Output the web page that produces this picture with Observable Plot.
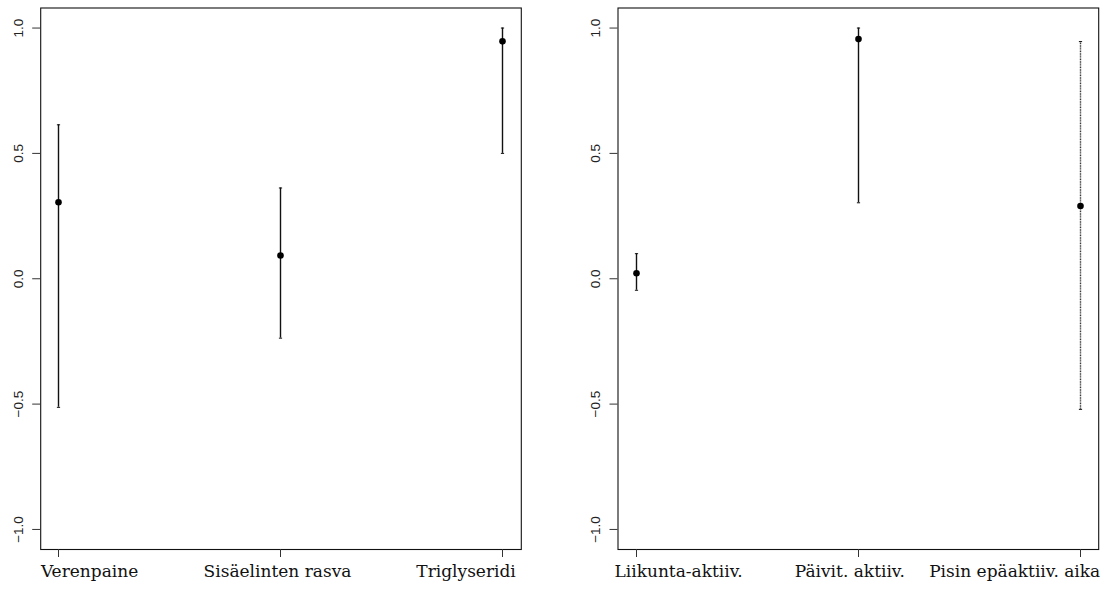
<!DOCTYPE html>
<html>
<head>
<meta charset="utf-8">
<script src="https://cdn.jsdelivr.net/npm/d3@7"></script>
<script src="https://cdn.jsdelivr.net/npm/@observablehq/plot@0.6"></script>
<style>
  html, body { margin: 0; padding: 0; background: white; }
  #wrap { display: flex; width: 1107px; height: 589px; }
  svg { display: block; }
</style>
</head>
<body>
<div id="wrap"></div>
<script>
// Left panel
const leftCats = ["Verenpaine", "Sisäelinten rasva", "Triglyseridi"];
const leftEst  = [0.305, 0.093, 0.947];
const leftLo   = [-0.513, -0.237, 0.500];
const leftHi   = [0.614, 0.362, 1.000];

// Right panel
const rightCats = ["Liikunta-aktiiv.", "Päivit. aktiiv.", "Pisin epäaktiiv. aika"];
const rightEst  = [0.022, 0.956, 0.290];
const rightLo   = [-0.046, 0.303, -0.521];
const rightHi   = [0.100, 1.000, 0.946];

const yTicks = [-1.0, -0.5, 0.0, 0.5, 1.0];

const capSymbol = {
  draw(ctx, size) {
    const r = 1.6;
    ctx.moveTo(-r, 0);
    ctx.lineTo(r, 0);
  }
};

function panel(cats, est, lo, hi, cfg) {
  const data = cats.map((c, i) => ({c, est: est[i], lo: lo[i], hi: hi[i], i}));
  const solid = data.filter(d => !cfg.dotted.includes(d.i));
  const dotted = data.filter(d => cfg.dotted.includes(d.i));
  const labelFont = {fontFamily: "DejaVu Serif, serif", fontSize: 17, fill: "#111"};
  return Plot.plot({
    width: cfg.width,
    height: 589,
    marginLeft: cfg.marginLeft,
    marginRight: cfg.marginRight,
    marginTop: 7.5,
    marginBottom: 40,
    style: {background: "white", fontFamily: "Liberation Sans, Arial, Helvetica, sans-serif", fontSize: "13px", color: "#111"},
    x: {type: "point", domain: cats, padding: 0.08, axis: null, label: null},
    y: {domain: [-1.08, 1.08], axis: null, label: null},
    marks: [
      Plot.frame({stroke: "#111", strokeWidth: 1.1}),
      Plot.axisY(yTicks, {anchor: "left", tickSize: 8, tickRotate: -90, tickPadding: 10, label: null,
        tickFormat: d3.format(".1f"), fontSize: 13.5, fontFamily: "Liberation Sans, Arial, sans-serif", stroke: "#333", fill: "#222"}),
      Plot.axisX(cats, {anchor: "bottom", tickSize: 8, tickFormat: () => "", label: null, stroke: "#333"}),
      Plot.ruleX(solid, {x: "c", y1: "lo", y2: "hi", stroke: "#111", strokeWidth: 1.4}),
      Plot.ruleX(dotted, {x: "c", y1: "lo", y2: "hi", stroke: "#3a3a3a", strokeWidth: 1.4, strokeDasharray: "1 0.6"}),
      Plot.dot(data, {x: "c", y: "lo", symbol: capSymbol, r: 2, stroke: "#111", strokeWidth: 1, fill: "none"}),
      Plot.dot(data, {x: "c", y: "hi", symbol: capSymbol, r: 2, stroke: "#111", strokeWidth: 1, fill: "none"}),
      Plot.dot(data, {x: "c", y: "est", r: 3.3, fill: "black", stroke: "none"}),
      // category labels (R-style axis labels)
      Plot.text([cats[0]], {x: d => d, frameAnchor: "bottom", dy: 27, textAnchor: "start", dx: cfg.dx[0], text: d => d, ...labelFont}),
      Plot.text([cats[1]], {x: d => d, frameAnchor: "bottom", dy: 27, textAnchor: "middle", dx: cfg.dx[1], text: d => d, ...labelFont}),
      Plot.text([cats[2]], {x: d => d, frameAnchor: "bottom", dy: 27, textAnchor: "end", dx: cfg.dx[2], text: d => d, ...labelFont})
    ]
  });
}

const wrap = document.getElementById("wrap");
wrap.appendChild(panel(leftCats, leftEst, leftLo, leftHi,
  {width: 560, marginLeft: 40.2, marginRight: 39.2, dx: [-17.6, -3, 13.3], dotted: []}));
wrap.appendChild(panel(rightCats, rightEst, rightLo, rightHi,
  {width: 547, marginLeft: 57.5, marginRight: 8.8, dx: [-22, -8.7, 19.7], dotted: [2]}));
</script>
</body>
</html>
